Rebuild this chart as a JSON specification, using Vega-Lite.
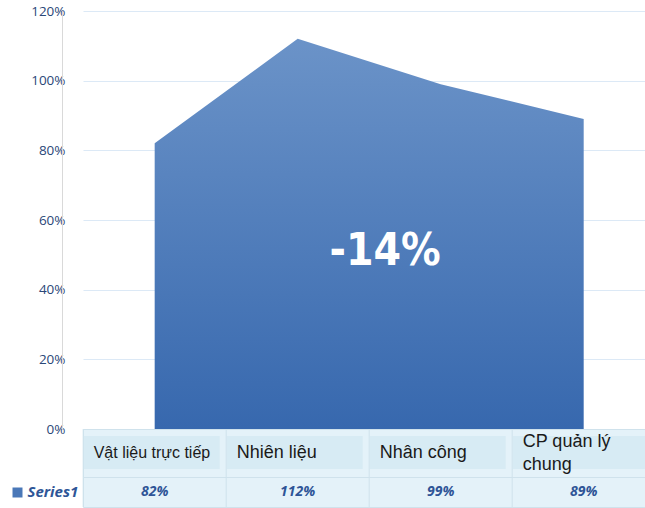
{
  "$schema": "https://vega.github.io/schema/vega-lite/v6.json",
  "padding": {"left": 6, "top": 4, "right": 0, "bottom": 0},
  "background": "#ffffff",
  "spacing": 0,
  "bounds": "flush",
  "config": {"view": {"stroke": null}},
  "datasets": {
    "costs": [
      {"series": "Series1", "cat": "Vật liệu trực tiếp", "value": 0.82},
      {"series": "Series1", "cat": "Nhiên liệu", "value": 1.12},
      {"series": "Series1", "cat": "Nhân công", "value": 0.99},
      {"series": "Series1", "cat": "CP quản lý\nchung", "value": 0.89}
    ],
    "note": [{"label": "-14%"}]
  },
  "vconcat": [
    {
      "width": 562,
      "height": 418,
      "layer": [
        {
          "data": {"name": "costs"},
          "mark": {
            "type": "area",
            "interpolate": "linear",
            "color": {
              "gradient": "linear",
              "x1": 0, "y1": 0, "x2": 0, "y2": 1,
              "stops": [
                {"offset": 0, "color": "#6b93c8"},
                {"offset": 1, "color": "#3768ae"}
              ]
            }
          },
          "encoding": {
            "x": {
              "field": "cat", "type": "nominal", "axis": null,
              "scale": {"type": "point", "domain": ["Vật liệu trực tiếp", "Nhiên liệu", "Nhân công", "CP quản lý\nchung"], "padding": 0.465, "align": 0.539}
            },
            "y": {
              "field": "value", "type": "quantitative",
              "scale": {"domain": [0, 1.2], "nice": false},
              "axis": {
                "title": null, "format": ".0%", "values": [0, 0.2, 0.4, 0.6, 0.8, 1.0, 1.2],
                "offset": 21, "domain": true, "domainColor": "#d9d9d9", "domainWidth": 1,
                "ticks": false, "tickSize": 0, "labelPadding": -3,
                "labelFont": "Open Sans", "labelFontSize": 13.5, "labelColor": "#2a4778",
                "grid": true, "gridColor": "#dce9f6", "gridWidth": 1.2
              }
            }
          }
        },
        {
          "data": {"name": "note"},
          "mark": {"type": "text", "align": "right", "baseline": "middle", "font": "Liberation Sans Narrow, DejaVu Sans Condensed, sans-serif", "fontWeight": "bold", "fontSize": 44, "color": "#ffffff", "dy": -3},
          "encoding": {
            "x": {"datum": "Nhân công", "type": "nominal"},
            "y": {"datum": 0.5, "type": "quantitative"},
            "text": {"field": "label"}
          }
        }
      ]
    },
    {
      "width": 562,
      "height": 48,
      "data": {"name": "costs"},
      "view": {"fill": "#e4f2f9", "stroke": "#cfe2ec"},
      "encoding": {
        "x": {
          "field": "cat", "type": "nominal", "axis": null,
          "scale": {"type": "point", "domain": ["Vật liệu trực tiếp", "Nhiên liệu", "Nhân công", "CP quản lý\nchung"], "padding": 0.465, "align": 0.539}
        }
      },
      "layer": [
        {
          "mark": {"type": "bar", "width": 136, "xOffset": -3, "color": "#d7ebf4"},
          "encoding": {
            "y": {
              "field": "series", "type": "nominal",
              "scale": {"type": "band", "paddingInner": 0, "paddingOuter": 0.227, "align": 0.47},
              "axis": null
            }
          }
        },
        {
          "mark": {"type": "rule", "xOffset": -71.5, "color": "#cfe2ec", "strokeWidth": 1},
          "encoding": {}
        },
        {
          "transform": [{"filter": "indexof(datum.cat, '\\n') < 0"}],
          "mark": {"type": "text", "align": "left", "baseline": "middle", "xOffset": -61, "font": "Liberation Sans, Arial, sans-serif", "color": "#1a1a1a"},
          "encoding": {
            "y": {"field": "series", "type": "nominal"},
            "text": {"field": "cat"},
            "size": {"condition": {"test": "datum.cat === 'Vật liệu trực tiếp'", "value": 16}, "value": 18}
          }
        },
        {
          "transform": [{"filter": "indexof(datum.cat, '\\n') >= 0"}],
          "mark": {"type": "text", "align": "left", "baseline": "middle", "xOffset": -61, "dy": -11, "font": "Liberation Sans, Arial, sans-serif", "fontSize": 18, "color": "#1a1a1a", "lineBreak": "\n", "lineHeight": 23},
          "encoding": {
            "y": {"field": "series", "type": "nominal"},
            "text": {"field": "cat"}
          }
        }
      ]
    },
    {
      "width": 562,
      "height": 30,
      "data": {"name": "costs"},
      "view": {"fill": "#e4f2f9", "stroke": "#cfe2ec"},
      "encoding": {
        "x": {
          "field": "cat", "type": "nominal", "axis": null,
          "scale": {"type": "point", "domain": ["Vật liệu trực tiếp", "Nhiên liệu", "Nhân công", "CP quản lý\nchung"], "padding": 0.465, "align": 0.539}
        }
      },
      "layer": [
        {
          "mark": {"type": "rule", "xOffset": -71.5, "color": "#cfe2ec", "strokeWidth": 1},
          "encoding": {}
        },
        {
          "mark": {"type": "text", "align": "center", "baseline": "middle", "font": "Open Sans", "fontWeight": "bold", "fontStyle": "italic", "fontSize": 14, "color": "#2e5597"},
          "encoding": {
            "y": {
              "field": "series", "type": "nominal",
              "scale": {"type": "band", "paddingInner": 0, "paddingOuter": 0},
              "axis": {
                "title": null, "orient": "left", "offset": 61, "domain": false,
                "ticks": true, "tickSize": 10, "tickWidth": 10, "tickColor": "#4a78b8", "tickCap": "butt",
                "labelAlign": "left", "labelPadding": -15, "labelFont": "Open Sans", "labelFontWeight": "bold", "labelFontStyle": "italic", "labelFontSize": 15, "labelColor": "#2e5597"
              }
            },
            "text": {"field": "value", "type": "quantitative", "format": ".0%"}
          }
        }
      ]
    }
  ]
}
